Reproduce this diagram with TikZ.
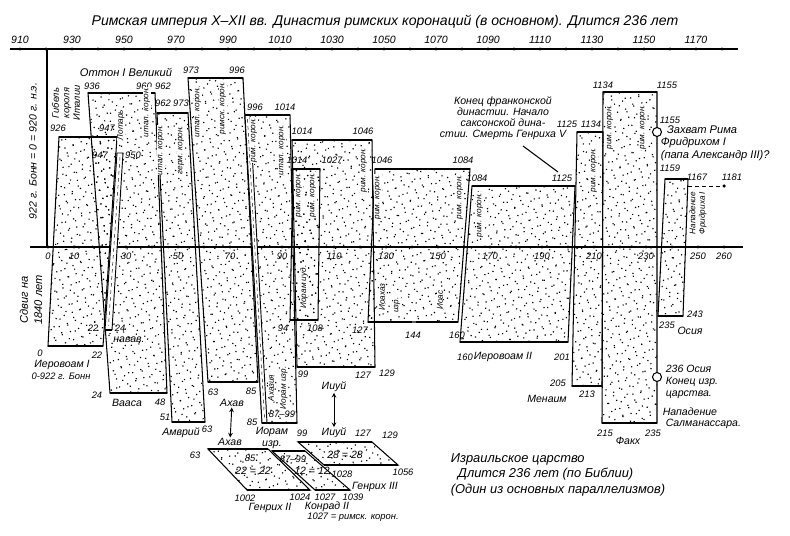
\documentclass[tikz,border=0pt]{standalone}
\usepackage{fontspec}
\setmainfont{Liberation Sans}
\usetikzlibrary{patterns.meta}

\tikzset{
  box/.style={line width=0.9pt,
    pattern={Dots[distance=2.6mm,radius=0.7pt,angle=21]},
    postaction={pattern={Dots[distance=2.9mm,radius=0.7pt,angle=-38,xshift=1.1mm,yshift=0.7mm]}}},
  strip/.style={line width=0.8pt, fill=white},
  bar/.style={line width=2.4pt},
  num/.style={font=\fontsize{8}{9}\selectfont\itshape, inner sep=0.5pt},
  lbl/.style={font=\fontsize{9}{10}\selectfont\itshape, inner sep=0.5pt},
  vlbl/.style={font=\fontsize{7}{8}\selectfont\itshape, rotate=90, inner sep=0.4pt, fill=white},
  ring/.style={circle, draw, line width=0.9pt, fill=white, minimum size=0.27cm, inner sep=0pt}
}

\begin{document}
\begin{tikzpicture}[x=0.03cm, y=-0.03cm]
    \useasboundingbox (0,0) rectangle (790,535);

    % Заголовок
    \node[font=\fontsize{12}{14}\selectfont\itshape] (head) at (385,22) {Римская империя X--XII вв. Династия римских коронаций (в основном). Длится 236 лет};

    % Верхняя шкала
    \draw[line width=1pt] (10,49) -- (738,49);
    \foreach \y in {910,920,...,1180} \fill ({20+(\y-910)*2.6},49) circle (1.4pt);
    \foreach \y in {910,930,...,1170} \node[num, font=\fontsize{9}{10}\selectfont\itshape] (t\y) at ({20+(\y-910)*2.6},40) {\y};

    % Нижняя шкала
    \draw[line width=1pt] (30,247) -- (743,247);
    \foreach \t in {0,10,...,260} \fill ({48+\t*2.6},247) circle (1.3pt);
    \foreach \t in {0,10,30,50,...,250,260} \node[num] (b\t) at ({48+\t*2.6},256) {\t};
    \draw[line width=1pt] (47,49) -- (47,247);

    % Полосы: 926-947 / 0-22
    \draw[box] (59,137) -- (117,137) -- (103,346) -- (48,346) -- cycle;
    \draw[bar] (59,137) -- (117,137) (48,346) -- (103,346);
    % 936-960 / 24-48
    \draw[box] (88,93) -- (155,93) -- (167,393) -- (110,393) -- cycle;
    \draw[bar] (88,93) -- (155,93) (110,393) -- (167,393);
    % 947-950 / 22-24
    \draw[strip] (117,153) -- (123,153) -- (112,330) -- (105,330) -- cycle;
    \draw[dashed] (120,157) -- (108.5,326);
    \draw[bar] (105,330) -- (112,330);
    % 962-973 / 51-63
    \draw[box] (157,113) -- (188,113) -- (205,422) -- (172,422) -- cycle;
    \draw[bar] (157,113) -- (188,113) (172,422) -- (205,422);
    % 973-996 / 63-85
    \draw[box] (188,78) -- (243,78) -- (258,382) -- (208,382) -- cycle;
    \draw[bar] (188,78) -- (243,78) (208,382) -- (258,382);
    % 996-1014 / 85-99
    \draw[box] (245,115) -- (290,115) -- (297,423) -- (262,423) -- cycle;
    \draw[strip] (245,115) -- (250,115) -- (267,423) -- (262,423) -- cycle;
    \draw[dashed] (247.5,119) -- (264.5,419);
    \draw[bar] (245,115) -- (290,115) (262,423) -- (297,423);
    % 1014-1046 / 99-127
    \draw[box] (292,140) -- (372,140) -- (375,367) -- (297,367) -- cycle;
    \draw[bar] (292,140) -- (372,140) (297,367) -- (375,367);
    % 1014-1027 / 94-108
    \draw[box] (293,169) -- (320,169) -- (318,320) -- (290,320) -- cycle;
    \draw[bar] (293,169) -- (320,169) (290,320) -- (318,320);
    % 1046-1084 / 127-160
    \draw[box] (375,169) -- (470,169) -- (458,322) -- (368,322) -- cycle;
    \draw[bar] (375,169) -- (470,169) (368,322) -- (412,322) (416,322) -- (458,322);
    % 1084-1125 / 160-201
    \draw[box] (472,186) -- (575,186) -- (568,342) -- (460,342) -- cycle;
    \draw[bar] (472,186) -- (575,186) (460,342) -- (568,342);
    % 1125-1134 / 205-213
    \draw[box] (577,132) -- (603,132) -- (602,386) -- (572,386) -- cycle;
    \draw[bar] (577,132) -- (603,132) (572,386) -- (602,386);
    % 1134-1155 / 215-235
    \draw[box] (603,92) -- (657,92) -- (657,423) -- (602,423) -- cycle;
    \draw[bar] (603,92) -- (657,92) (602,423) -- (657,423);
    % 1159-1167 / 235-243
    \draw[box] (665,179) -- (688,179) -- (683,316) -- (658,316) -- cycle;
    \draw[bar] (665,179) -- (688,179) (658,316) -- (683,316);
    \draw[dashed, line width=0.8pt] (688,186) -- (724,186);
    \fill (724,186) circle (1.5pt);

    % Нижние параллелограммы
    \draw[box] (208,449) -- (268,449) -- (310,490) -- (247,490) -- cycle;
    \draw[bar] (208,449) -- (268,449) (247,490) -- (310,490);
    \draw[box] (272,451) -- (305,451) -- (350,490) -- (315,490) -- cycle;
    \draw[bar] (272,451) -- (305,451) (315,490) -- (350,490);
    \draw[box] (298,442) -- (372,442) -- (398,465) -- (324,465) -- cycle;
    \draw[bar] (298,442) -- (372,442) (324,465) -- (398,465);

    % Левые подписи
    \node[lbl, rotate=90] (bonn) at (33,151) {922 г. Бонн = 0 = 920 г. н.э.};
    \node[vlbl, align=center, font=\fontsize{8}{9}\selectfont\itshape] (italy) at (66,103) {Гибель\\короля\\Италии};
    \node[lbl, rotate=90, align=center, font=\fontsize{9.5}{12}\selectfont\itshape] (shift) at (31,300) {Сдвиг на\\1840 лет};
    \node[lbl, font=\fontsize{9.5}{11}\selectfont\itshape] (otto) at (126,72) {Оттон I Великий};

    % Верхние даты
    \node[num] (n926) at (58,128) {926};
    \node[num] (n947) at (107,128) {947};
    \node[num] (n947b) at (100,155) {947};
    \node[num] (n950) at (133,155) {950};
    \node[num] (n936) at (92,86) {936};
    \node[num] (n960) at (144,86) {960};
    \node[num] (n962) at (163,86) {962};
    \node[num] (n962b) at (163,103) {962};
    \node[num] (n973) at (181,103) {973};
    \node[num] (n973b) at (191,70) {973};
    \node[num] (n996) at (237,70) {996};
    \node[num] (n996b) at (255,107) {996};
    \node[num] (n1014) at (285,107) {1014};
    \node[num] (n1014b) at (302,131) {1014};
    \node[num] (n1046) at (363,131) {1046};
    \node[num] (n1014c) at (297,160) {1014};
    \node[num] (n1027) at (332,160) {1027};
    \node[num] (n1046b) at (382,160) {1046};
    \node[num] (n1084) at (463,160) {1084};
    \node[num] (n1084b) at (477,178) {1084};
    \node[num] (n1125) at (562,178) {1125};
    \node[num] (n1125b) at (567,124) {1125};
    \node[num] (n1134) at (591,124) {1134};
    \node[num] (n1134b) at (603,85) {1134};
    \node[num] (n1155) at (667,85) {1155};
    \node[num] (n1155b) at (670,120) {1155};
    \node[num] (n1159) at (670,168) {1159};
    \node[num] (n1167) at (697,177) {1167};
    \node[num] (n1181) at (732,177) {1181};

    % Надписи в полосах
    \node[vlbl] (v1) at (121,125) {Лотарь};
    \node[vlbl] (v2) at (147,112) {итал. корон.};
    \node[vlbl] (v3) at (161,150) {итал. корон.};
    \node[vlbl] (v4) at (181,150) {герм. корон.};
    \node[vlbl] (v5) at (198,112) {итал. корон.};
    \node[vlbl] (v6) at (223,108) {римск. корон.};
    \node[vlbl] (v7) at (254,140) {рим. корон.};
    \node[vlbl] (v8) at (282,150) {итал. корон.};
    \node[vlbl] (v9) at (299,195) {рим. корон.};
    \node[vlbl] (v10) at (313,195) {рим. корон.};
    \node[vlbl] (v11) at (364,170) {рим. корон.};
    \node[vlbl] (v12) at (378,197) {рим. корон.};
    \node[vlbl] (v13) at (460,197) {рим. корон.};
    \node[vlbl] (v14) at (480,215) {рим. корон.};
    \node[vlbl] (v15) at (594,170) {рим. корон.};
    \node[vlbl] (v16) at (610,127) {рим. корон.};
    \node[vlbl] (v17) at (643,127) {рим. корон.};
    \node[vlbl, align=center] (v18) at (698,213) {Нападение\\Фридриха I};
    \node[vlbl] (v19) at (271,388) {Ахазия};
    \node[vlbl] (v20) at (284,388) {Иорам изр.};
    \node[vlbl] (v21) at (304,287) {Иорам иуд.};
    \node[vlbl] (v22) at (382,297) {Иоахаз};
    \node[vlbl] (v23) at (397,305) {изр.};
    \node[vlbl] (v24) at (440,300) {Иоас};

    % Нижние даты и имена
    \node[num] (m0) at (40,353) {0};
    \node[num] (m22) at (97,355) {22};
    \node[lbl] (jer1) at (62,365) {Иеровоам I};
    \node[lbl, font=\fontsize{8}{9}\selectfont\itshape] (bonn0) at (61,376) {0-922 г. Бонн};
    \node[num] (m22b) at (93,328) {22};
    \node[num] (m24) at (120,328) {24};
    \node[lbl] (nadab) at (129,340) {навав.};
    \node[num] (m24b) at (97,395) {24};
    \node[lbl] (baasha) at (127,403) {Вааса};
    \node[num] (m48) at (160,402) {48};
    \node[num] (m51) at (165,417) {51};
    \node[lbl] (omri) at (181,433) {Амврий};
    \node[num] (m63) at (207,429) {63};
    \node[num] (m63b) at (213,392) {63};
    \node[num] (m85) at (251,391) {85};
    \node[lbl] (ahavA) at (232,403) {Ахав};
    \node[num] (m85b) at (252,422) {85};
    \node[num] (m8799) at (282,414) {87--99};
    \node[lbl, align=center] (joram) at (272,438) {Иорам\\изр.};
    \node[num] (m99) at (302,433) {99};
    \node[num] (m94) at (283,328) {94};
    \node[num] (m108) at (315,328) {108};
    \node[num] (m99b) at (303,374) {99};
    \node[num] (m127) at (363,375) {127};
    \node[num] (m129) at (387,373) {129};
    \node[lbl] (iehuA) at (334,387) {Ииуй};
    \node[num] (m127b) at (360,330) {127};
    \node[num] (m144) at (413,335) {144};
    \node[num] (m160) at (457,335) {160};
    \node[num] (m160b) at (465,357) {160};
    \node[lbl] (jer2) at (503,357) {Иеровоам II};
    \node[num] (m201) at (562,357) {201};
    \node[num] (m205) at (558,383) {205};
    \node[num] (m213) at (587,394) {213};
    \node[lbl] (menahem) at (547,399) {Менаим};
    \node[num] (m215) at (605,433) {215};
    \node[num] (m235) at (653,433) {235};
    \node[lbl] (pekah) at (628,441) {Факх};
    \node[num] (m243) at (695,314) {243};
    \node[num] (m235b) at (667,325) {235};
    \node[lbl] (hosea) at (690,331) {Осия};

    % Кружки и пояснения справа
    \node[ring] (c1155) at (657,132) {};
    \node[lbl, align=left, anchor=west, font=\fontsize{9.5}{10.5}\selectfont\itshape] (rome) at (660,143) {\ \ Захват Рима\\ Фридрихом I\\(папа Александр III)?};
    \node[ring] (c236) at (657,377) {};
    \node[lbl, align=left, anchor=west] (end) at (665,382) {236 Осия\\Конец изр.\\царства.};
    \node[lbl, align=left, anchor=west, font=\fontsize{9}{9.5}\selectfont\itshape] (salm) at (662,418) {Нападение\\\ Салманассара.};

    % Конец франконской династии
    \node[lbl, align=center, font=\fontsize{9}{9.3}\selectfont\itshape] (note) at (503,118) {Конец франконской\\династии. Начало\\саксонской дина-\\стии. Смерть Генриха V};
    \coordinate (n1) at (523,146);
    \coordinate (n2) at (558,172);
    \draw[line width=0.9pt] (n1) -- (n2);

    % Параллелограммы: подписи
    \node[lbl] (ahavB) at (230,442) {Ахав};
    \draw[<->, >=stealth, line width=0.8pt] (ahavA) -- (ahavB);
    \node[lbl] (iehuB) at (334,433) {Ииуй};
    \draw[<->, >=stealth, line width=0.8pt] (iehuA) -- (iehuB);
    \node[num] (p63) at (195,455) {63};
    \node[num] (p85) at (250,458) {85};
    \node[lbl] (p22) at (253,471) {22 = 22};
    \node[num] (p1002) at (245,498) {1002};
    \node[num] (p1024) at (300,497) {1024};
    \node[lbl] (henry2) at (270,508) {Генрих II};
    \node[num] (p8799) at (293,459) {87--99};
    \node[lbl] (p12) at (312,471) {12 = 12};
    \node[num] (p1027) at (325,497) {1027};
    \node[num] (p1039) at (353,497) {1039};
    \node[lbl] (konrad) at (327,507) {Конрад II};
    \node[lbl, font=\fontsize{8}{9}\selectfont\itshape] (p1027r) at (353,517) {1027 = римск. корон.};
    \node[num] (p127) at (363,433) {127};
    \node[num] (p129) at (390,435) {129};
    \node[lbl] (p28) at (345,455) {28 = 28};
    \node[num] (p1028) at (342,474) {1028};
    \node[num] (p1056) at (403,472) {1056};
    \node[lbl] (henry3) at (375,487) {Генрих III};

    % Израильское царство
    \node[lbl, align=left, anchor=north west, font=\fontsize{11}{13}\selectfont\itshape] (israel) at (450,453) {Израильское царство\\\ \ Длится 236 лет (по Библии)\\(Один из основных параллелизмов)};
\end{tikzpicture}
\end{document}
